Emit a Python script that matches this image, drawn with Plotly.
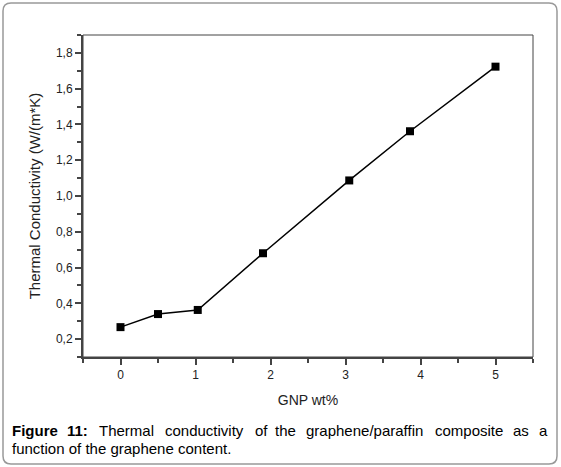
import plotly.graph_objects as go

# GNP content (wt%) and measured thermal conductivity
gnp_wt = [0, 0.5, 1.03, 1.9, 3.05, 3.86, 5]
conductivity = [0.267, 0.34, 0.363, 0.68, 1.087, 1.362, 1.723]

caption_line1 = ["Figure", "11:", "Thermal", "conductivity", "of", "the",
                 "graphene/paraffin", "composite", "as", "a"]
caption_line1_x = [10, 65, 97, 163, 253, 273, 304, 433, 511, 537]
caption_line2 = "function of the graphene content."

W, H = 561, 467
L, R, T, B = 83, 533, 35, 357


def px(x):
    return (x - L) / (R - L)


def py(y):
    return (B - y) / (B - T)


fig = go.Figure()
fig.add_trace(go.Scatter(
    x=gnp_wt, y=conductivity, mode="lines+markers",
    line=dict(color="black", width=1.5),
    marker=dict(symbol="square", size=8, color="black"),
    showlegend=False,
))

axis_font = dict(family="Liberation Sans, Arial", size=12, color="#222")

fig.update_xaxes(
    range=[-0.5, 5.5], dtick=1, tick0=0, showgrid=False, zeroline=False,
    showline=True, linewidth=2, linecolor="#444",
    ticks="outside", ticklen=6, tickwidth=1.5, tickcolor="#444",
    minor=dict(ticks="outside", ticklen=4, dtick=0.5, tick0=0, tickcolor="#444", tickwidth=1.5),
    tickfont=axis_font,
    title=dict(text="GNP wt%", font=dict(family="Liberation Sans, Arial", size=14, color="#222"), standoff=14),
)
fig.update_yaxes(
    range=[0.1, 1.9], dtick=0.2, tick0=0.2, tickformat=".1f", showgrid=False, zeroline=False,
    showline=True, linewidth=2, linecolor="#444",
    ticks="outside", ticklen=6, tickwidth=1.5, tickcolor="#444",
    minor=dict(ticks="outside", ticklen=4, dtick=0.1, tick0=0.1, tickcolor="#444", tickwidth=1.5),
    tickfont=axis_font,
    title=dict(text="Thermal Conductivity (W/(m*K)", font=dict(family="Liberation Sans, Arial", size=15, color="#222"), standoff=12),
)

# thin top/right frame
fig.add_shape(type="rect", xref="paper", yref="paper", x0=0, y0=0, x1=1, y1=1,
              line=dict(color="#444", width=1))

# rounded outer border
x0, x1, y0, y1, r = 3, 557, 3, 464, 8
path = (f"M {px(x0 + r)} {py(y0)} L {px(x1 - r)} {py(y0)} Q {px(x1)} {py(y0)} {px(x1)} {py(y0 + r)} "
        f"L {px(x1)} {py(y1 - r)} Q {px(x1)} {py(y1)} {px(x1 - r)} {py(y1)} "
        f"L {px(x0 + r)} {py(y1)} Q {px(x0)} {py(y1)} {px(x0)} {py(y1 - r)} "
        f"L {px(x0)} {py(y0 + r)} Q {px(x0)} {py(y0)} {px(x0 + r)} {py(y0)} Z")
fig.add_shape(type="path", path=path, xref="paper", yref="paper",
              line=dict(color="#999", width=1.5))

# justified first caption line: one annotation per word
cap_font = dict(family="Liberation Sans, Arial", size=15, color="black")
for i, (word, xw) in enumerate(zip(caption_line1, caption_line1_x)):
    txt = f"<b>{word}</b>" if i < 2 else word
    fig.add_annotation(text=txt, x=px(xw), y=py(430), xref="paper", yref="paper",
                       xanchor="left", yanchor="middle", showarrow=False, font=cap_font)
fig.add_annotation(text=caption_line2, x=px(10), y=py(448), xref="paper", yref="paper",
                   xanchor="left", yanchor="middle", showarrow=False, font=cap_font)

fig.update_layout(
    width=W, height=H, margin=dict(l=L, r=W - R, t=T, b=H - B),
    paper_bgcolor="white", plot_bgcolor="white", separators=",.",
)

# drop the browser's default body margin so the figure sits at (0, 0)
fig.write_html("out.html", config={"displayModeBar": False},
               post_script="document.body.style.margin='0';")
